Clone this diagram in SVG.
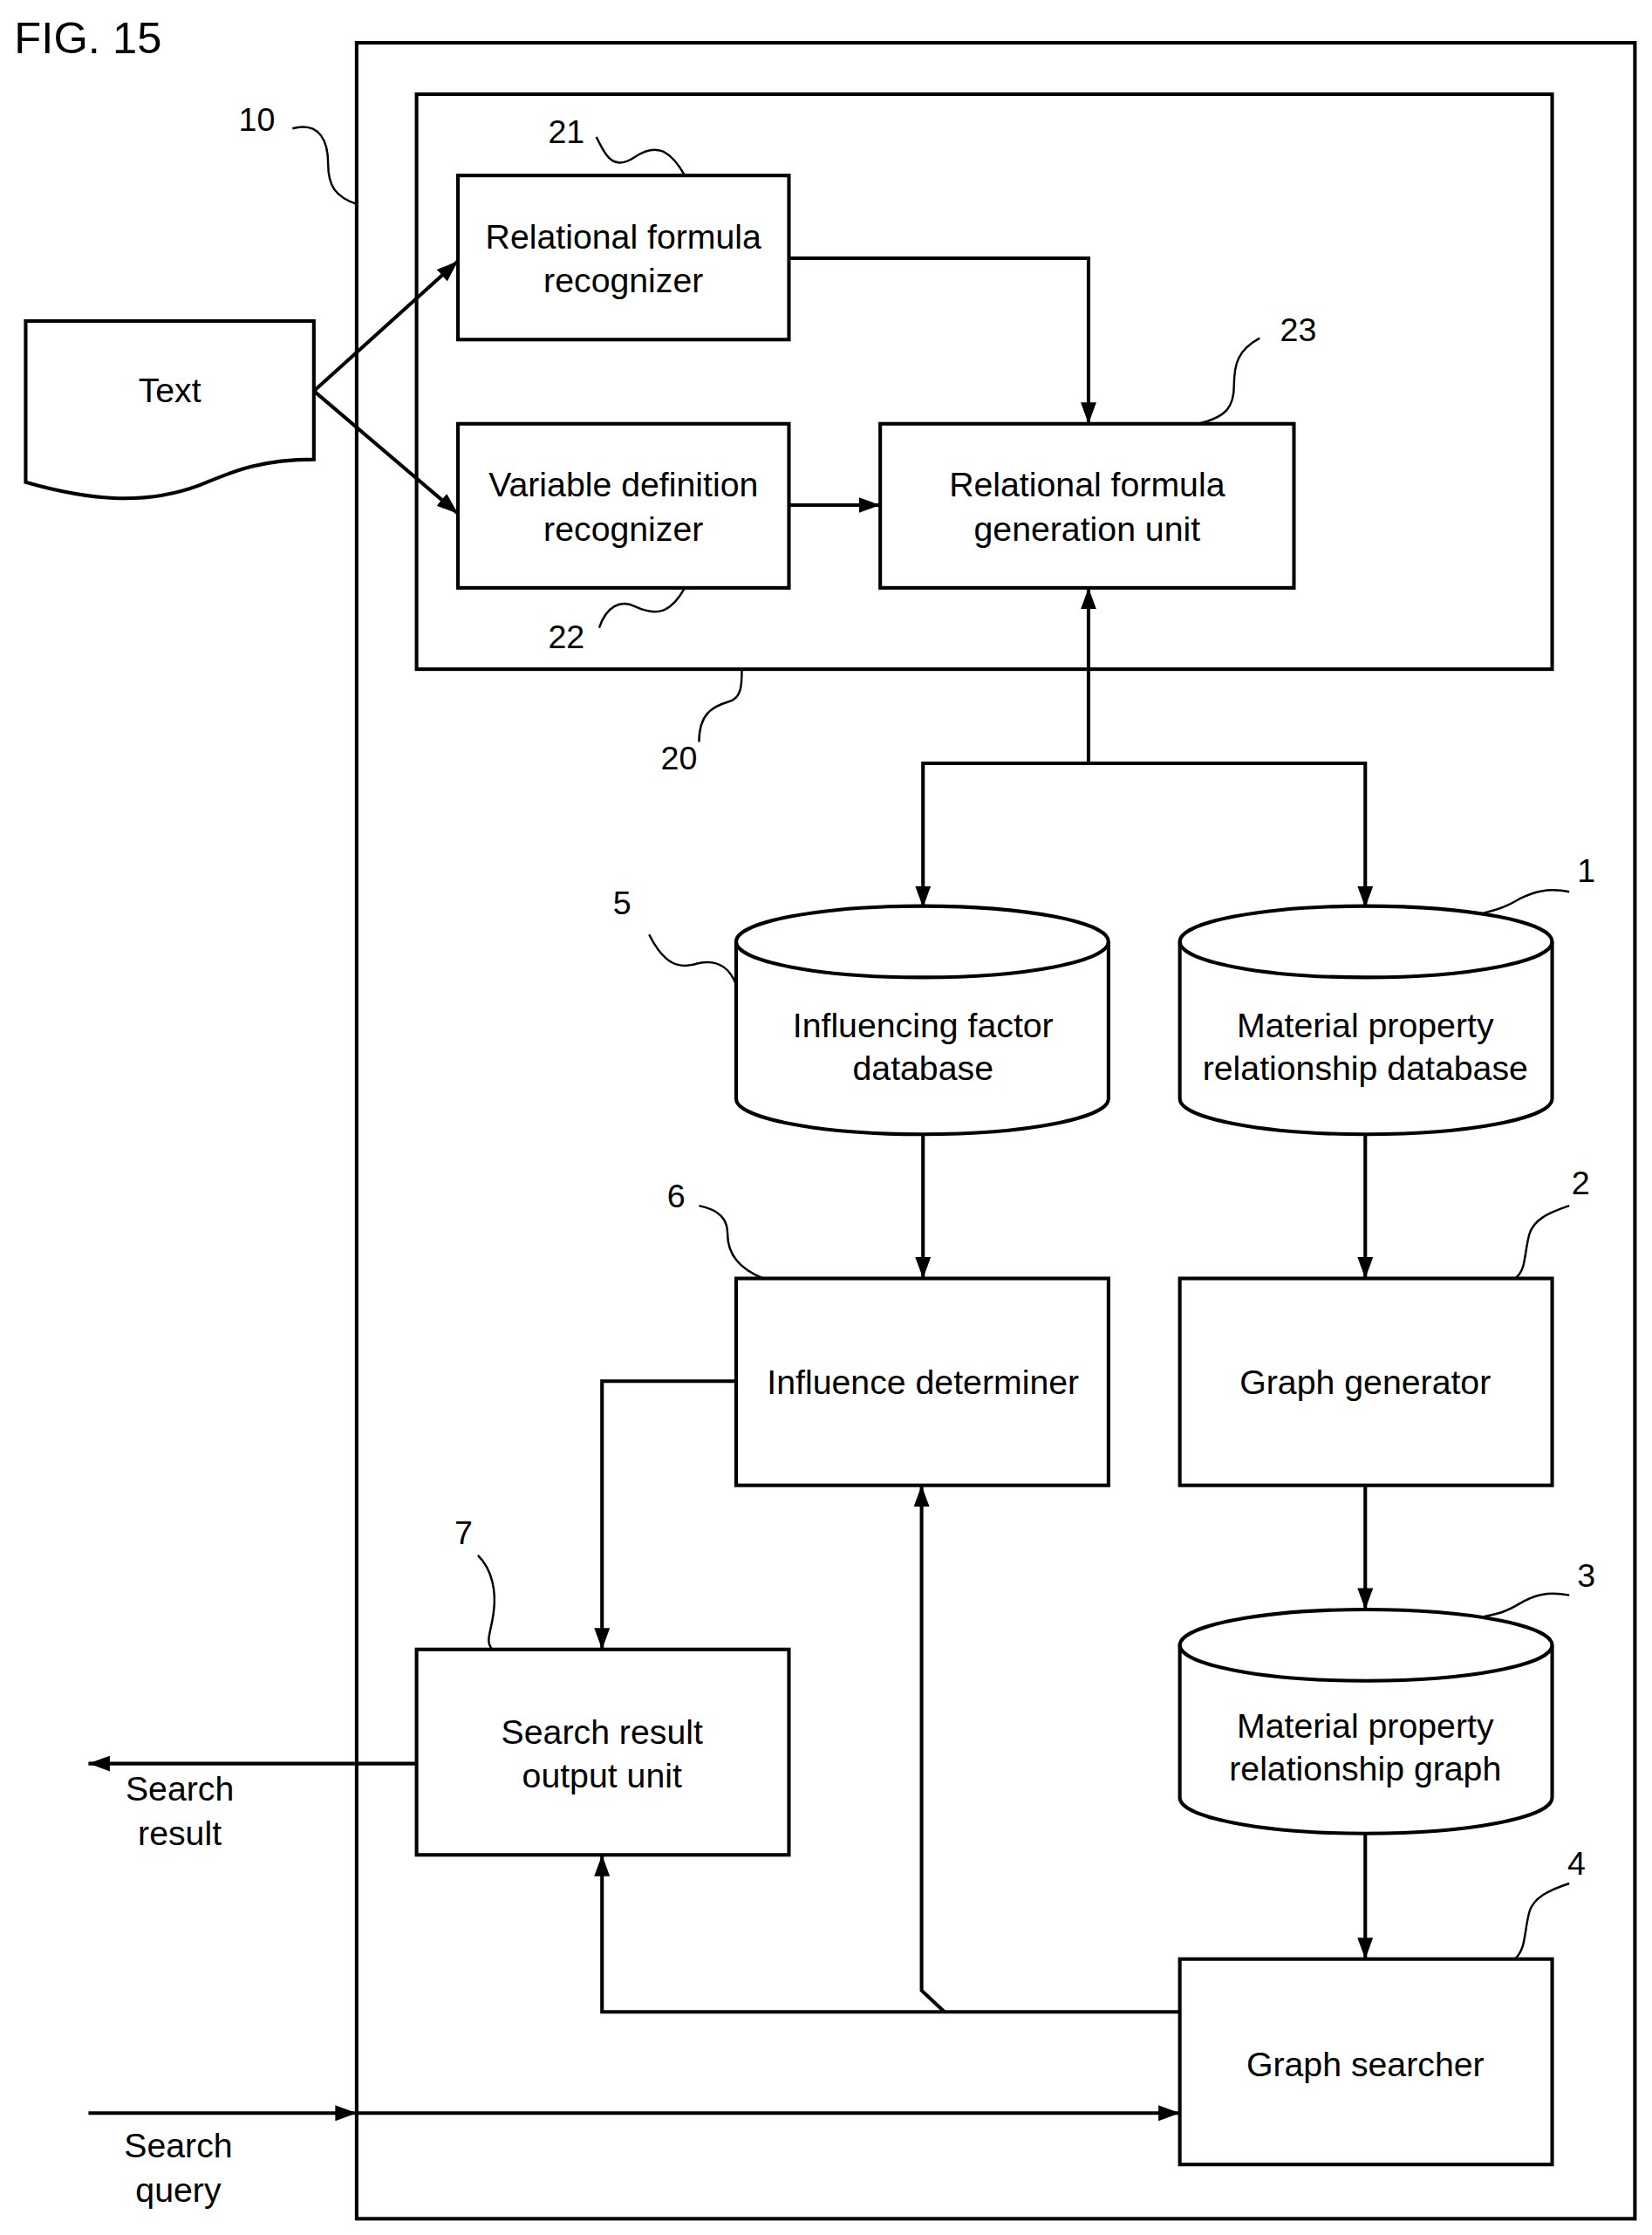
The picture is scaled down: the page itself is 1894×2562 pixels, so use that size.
<svg xmlns="http://www.w3.org/2000/svg" width="1894" height="2562" viewBox="0 0 1894 2562">
<defs>
<style>
.b{fill:none;stroke:#000;stroke-width:2.5}
.l{fill:none;stroke:#000;stroke-width:2.5}
.ld{fill:none;stroke:#000;stroke-width:1.5}
text{font-family:"Liberation Sans",Arial,sans-serif;font-size:24px;fill:#000;text-anchor:middle}
.n{font-size:23px}
</style>
<marker id="a" viewBox="0 0 15 11" refX="15" refY="5.5" markerWidth="15" markerHeight="11" orient="auto-start-reverse" markerUnits="userSpaceOnUse"><path d="M0,0L15,5.5L0,11z" fill="#000"/></marker>
</defs>
<rect width="1894" height="2562" fill="#fff"/>
<g transform="scale(1.6356)">
<text x="10" y="37" style="text-anchor:start;font-size:31px">FIG. 15</text>
<g id="n10"><rect class="b" x="250" y="30" width="896" height="1525"/><text class="n" x="180" y="92">10</text><path class="ld" d="M205,90 C225,85 230,100 230,115 C230,130 235,138 250,143"/></g>
<g id="n20"><rect class="b" x="292" y="66" width="796" height="403"/><text class="n" x="476" y="539">20</text><path class="ld" d="M490,520 C490,500 500,495 510,492 C520,490 520,480 520,469"/></g>
<g id="text"><path class="b" d="M18,225 H220 V322 C180,322 160,332 140,340 C100,355 60,350 18,338 Z"/><text x="119" y="282">Text</text></g>
<g id="n21"><rect class="b" x="321" y="123" width="232" height="115"/><text x="437" y="174">Relational formula</text><text x="437" y="205">recognizer</text><text class="n" x="397" y="100">21</text><path class="ld" d="M418,96 C425,110 430,120 445,110 C460,100 470,105 480,123"/></g>
<g id="n22"><rect class="b" x="321" y="297" width="232" height="115"/><text x="437" y="348">Variable definition</text><text x="437" y="379">recognizer</text><text class="n" x="397" y="454">22</text><path class="ld" d="M420,440 C425,425 435,420 445,425 C460,432 470,430 480,412"/></g>
<g id="n23"><rect class="b" x="617" y="297" width="290" height="115"/><text x="762" y="348">Relational formula</text><text x="762" y="379">generation unit</text><text class="n" x="910" y="239">23</text><path class="ld" d="M883,237 C868,245 865,255 865,270 C865,285 860,292 840,297"/></g>
<g id="n5"><path class="b" d="M516,660 V770 A130.5,25 0 0 0 777,770 V660"/><ellipse class="b" cx="646.5" cy="660" rx="130.5" ry="25"/><text x="647" y="727">Influencing factor</text><text x="647" y="757">database</text><text class="n" x="436" y="641">5</text><path class="ld" d="M455,655 C465,675 475,680 490,675 C505,672 512,680 516,690"/></g>
<g id="n1"><path class="b" d="M827,660 V770 A130.5,25 0 0 0 1088,770 V660"/><ellipse class="b" cx="957.5" cy="660" rx="130.5" ry="25"/><text x="957" y="727">Material property</text><text x="957" y="757">relationship database</text><text class="n" x="1112" y="618">1</text><path class="ld" d="M1100,625 C1085,622 1075,625 1065,630 C1055,636 1050,637 1040,640"/></g>
<g id="n6"><rect class="b" x="516" y="896" width="261" height="145"/><text x="647" y="977">Influence determiner</text><text class="n" x="474" y="846">6</text><path class="ld" d="M490,845 C505,848 510,855 510,865 C510,880 520,890 535,896"/></g>
<g id="n2"><rect class="b" x="827" y="896" width="261" height="145"/><text x="957" y="977">Graph generator</text><text class="n" x="1108" y="837">2</text><path class="ld" d="M1100,845 C1085,850 1075,855 1072,865 C1068,880 1070,890 1062,896"/></g>
<g id="n3"><path class="b" d="M827,1153 V1260 A130.5,25 0 0 0 1088,1260 V1153"/><ellipse class="b" cx="957.5" cy="1153" rx="130.5" ry="25"/><text x="957" y="1218">Material property</text><text x="957" y="1248">relationship graph</text><text class="n" x="1112" y="1112">3</text><path class="ld" d="M1100,1118 C1085,1115 1075,1118 1065,1124 C1055,1130 1050,1131 1040,1133"/></g>
<g id="n4"><rect class="b" x="827" y="1373" width="261" height="144"/><text x="957" y="1455">Graph searcher</text><text class="n" x="1105" y="1314">4</text><path class="ld" d="M1100,1320 C1085,1325 1075,1330 1072,1340 C1068,1355 1070,1365 1062,1373"/></g>
<g id="n7"><rect class="b" x="292" y="1156" width="261" height="144"/><text x="422" y="1222">Search result</text><text x="422" y="1253">output unit</text><text class="n" x="325" y="1082">7</text><path class="ld" d="M335,1090 C345,1100 348,1115 346,1130 C344,1145 340,1150 345,1156"/></g>
<g id="labels"><text x="126" y="1262">Search</text><text x="126" y="1293">result</text><text x="125" y="1512">Search</text><text x="125" y="1543">query</text></g>
<g id="connectors">
<path class="l" d="M220,274 L321,183" marker-end="url(#a)"/>
<path class="l" d="M220,274 L321,360" marker-end="url(#a)"/>
<path class="l" d="M553,181 H763 V297" marker-end="url(#a)"/>
<path class="l" d="M553,354 H617" marker-end="url(#a)"/>
<path class="l" d="M763,412 V535" marker-start="url(#a)"/>
<path class="l" d="M647,636 V535 H957 V636" marker-start="url(#a)" marker-end="url(#a)"/>
<path class="l" d="M647,795 V896" marker-end="url(#a)"/>
<path class="l" d="M957,795 V896" marker-end="url(#a)"/>
<path class="l" d="M957,1041 V1128" marker-end="url(#a)"/>
<path class="l" d="M957,1285 V1373" marker-end="url(#a)"/>
<path class="l" d="M516,968 H422 V1156" marker-end="url(#a)"/>
<path class="l" d="M827,1410 H422 V1300" marker-end="url(#a)"/>
<path class="l" d="M662,1410 L646,1395 V1041" marker-end="url(#a)"/>
<path class="l" d="M292,1236 H62" marker-end="url(#a)"/>
<path class="l" d="M62,1481 H250" marker-end="url(#a)"/>
<path class="l" d="M250,1481 H827" marker-end="url(#a)"/>
</g>
</g>
</svg>
